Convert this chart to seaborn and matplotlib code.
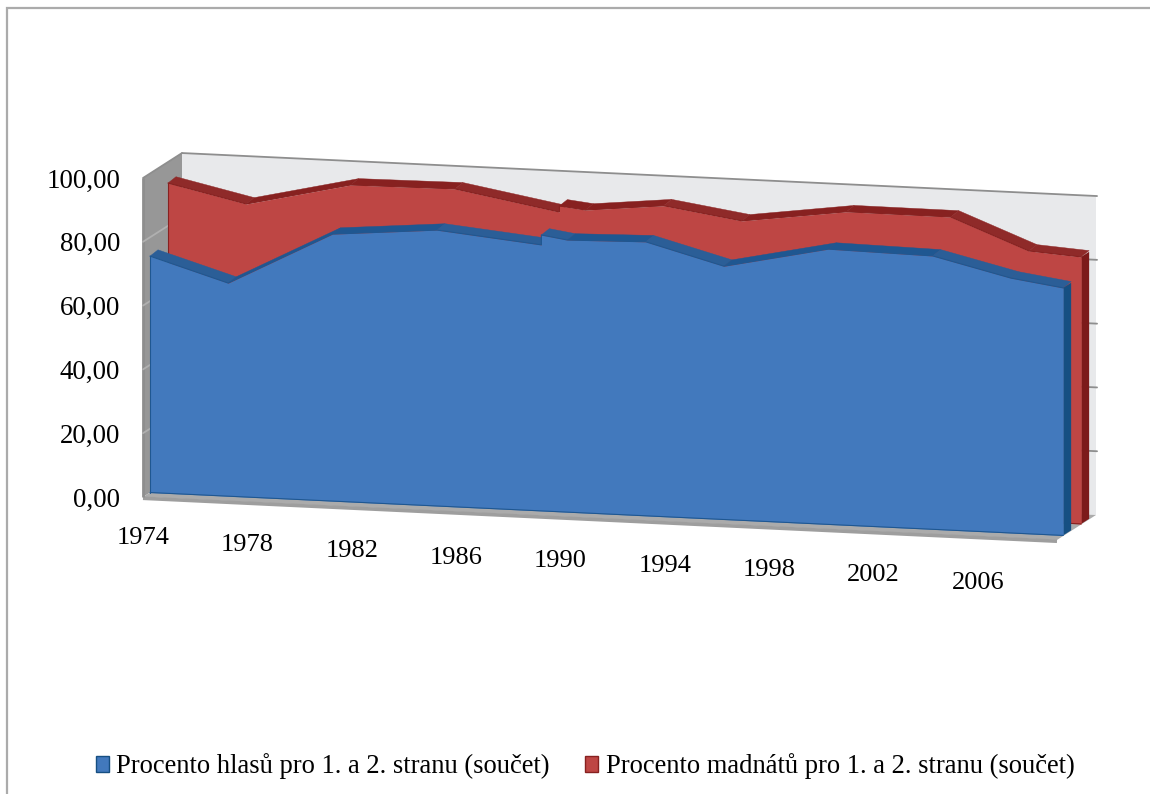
import numpy as np
import matplotlib
matplotlib.use('Agg')
import matplotlib.pyplot as plt
import seaborn as sns
from matplotlib.patches import Patch, Rectangle
from matplotlib.transforms import Affine2D

# Data (1989 is there twice, the chart has a step)
years = [1974, 1977, 1981, 1985, 1989, 1989, 1990, 1993, 1996, 2000, 2004, 2007, 2009]
votes = [74.1, 66.8, 83.7, 86.5, 83.4, 86.5, 85.3, 85.9, 79.4, 86.3, 85.7, 79.9, 77.6]
seats = [93.4, 88.0, 95.5, 95.8, 90.1, 92.0, 91.1, 93.6, 90.0, 94.4, 94.3, 84.8, 83.7]
year_labels = [1974, 1978, 1982, 1986, 1990, 1994, 1998, 2002, 2006]
value_ticks = [0, 20, 40, 60, 80, 100]
value_labels = ['0,00', '20,00', '40,00', '60,00', '80,00', '100,00']
series_names = ['Procento hlasů pro 1. a 2. stranu (součet)',
                'Procento madnátů pro 1. a 2. stranu (součet)']

# the year labels are not quite on one line in the original (pixels down)
label_nudge = [-1, 1, 2, 4, 2, 2, 1, 2, 5]

# Colours
blue, red = sns.color_palette(['#4279BD', '#BE4644'])
blue_tops = ['#1F5791', '#2B5E97']   # flat or rising, falling
red_tops = ['#872120', '#8F2A29']
blue_side = '#164F82'
red_side = '#7C1A1A'
wall_grey = '#979797'
floor_grey = '#ABABAB'
back_wall = '#E8E9EB'
line_grey = '#8E8E8E'

# Pixel scales of the fake 3D box
W, H = 1150, 794
PX_YEAR = 26.09
PX_VALUE = 3.19
SLOPE = 0.047     # the front edge runs downhill to the right
RISE = 0.64       # pixels up per pixel of depth
LEFT_PX, ZERO_PX = 143, 497

sns.set_theme(style='white')
plt.rcParams['font.family'] = ['Liberation Serif', 'DejaVu Serif']

fig = plt.figure(figsize=(W / 100, H / 100), dpi=100)
ax = fig.add_axes([0, 0, 1, 1])
ax.patch.set_alpha(0)

# shear the whole data plane about the left wall
k = SLOPE * PX_YEAR / PX_VALUE
shear = Affine2D(np.array([[1, 0, 0], [-k, 1, k * years[0]], [0, 0, 1]])) + ax.transData


def at_depth(x, y, d):
    # move points back into the box by d pixels
    x = np.asarray(x, dtype=float) + d / PX_YEAR
    y = np.asarray(y, dtype=float) + (RISE + SLOPE) * d / PX_VALUE
    return x, y


def face(x, y, **kw):
    ax.fill(x, y, transform=shear, **kw)


x_end = years[0] + 914 / PX_YEAR
DEPTH = 39

# back wall, left wall and floor
bx = [years[0], x_end, x_end, years[0]]
by = [0, 0, 100, 100]
face(*at_depth(bx, by, DEPTH), color=back_wall, lw=0, zorder=1)
wx, wy = at_depth([years[0]] * 4, [0, 100, 100, 0], np.array([0, 0, DEPTH, DEPTH]))
face(wx, wy, color=wall_grey, lw=0, zorder=1)
fx, fy = at_depth([years[0], x_end, x_end, years[0]], [0, 0, 0, 0], np.array([0, 0, DEPTH, DEPTH]))
face(fx, fy, color=floor_grey, lw=0, zorder=1)
ax.plot([years[0], x_end], [-0.4, -0.4], color='#9E9E9E', lw=2.6, transform=shear, zorder=1.5,
        solid_capstyle='butt')
ax.plot([years[0], years[0]], [0, 100], color=line_grey, lw=2, transform=shear, zorder=1.5,
        solid_capstyle='butt')

# gridlines, on both walls
for v in value_ticks[1:]:
    gx, gy = at_depth([years[0], x_end + 0.04], [v, v], DEPTH)
    ax.plot(gx, gy, color=line_grey, lw=1.3, transform=shear, zorder=1.6)
    gx, gy = at_depth([years[0], years[0]], [v, v], np.array([0, DEPTH]))
    ax.plot(gx, gy, color='#B0B0B0' if v < 100 else line_grey, lw=1.3, transform=shear, zorder=1.6)


def draw_series(vals, d, thick, color, tops, side, z):
    fx, fy = at_depth(years, vals, d)
    bx, by = at_depth(years, vals, d + thick)
    by = by + 1.2 / PX_VALUE   # ribbon looks a bit thicker than the depth alone gives
    # top ribbon, one piece per segment, falling ones are lighter
    for i in range(len(years) - 1):
        if years[i] == years[i + 1]:
            continue
        shade = tops[1] if vals[i + 1] < vals[i] - 1 else tops[0]
        face([fx[i], fx[i + 1], bx[i + 1], bx[i]], [fy[i], fy[i + 1], by[i + 1], by[i]],
             color=shade, lw=0.3, zorder=z)
    # right side
    sx, sy = at_depth([years[-1]] * 4, [0, vals[-1], vals[-1], 0], np.array([d, d, d + thick, d + thick]))
    face(sx, sy, color=side, lw=0, zorder=z)
    # front
    _, zy = at_depth(years, np.zeros(len(years)), d)
    ax.fill_between(fx, zy, fy, color=color, lw=0, transform=shear, zorder=z + 0.1)
    sns.lineplot(x=fx, y=fy, color=tops[0], lw=0.8, estimator=None, sort=False,
                 transform=shear, ax=ax, legend=False, zorder=z + 0.2)
    ax.plot(fx[[0, 0]], [zy[0], fy[0]], color=tops[0], lw=0.8, transform=shear, zorder=z + 0.2)
    ax.plot(fx[[0, -1]], zy[[0, -1]], color=tops[0], lw=0.8, transform=shear, zorder=z + 0.2)


draw_series(seats, 25, 8, red, red_tops, red_side, 2)
draw_series(votes, 7, 8, blue, blue_tops, blue_side, 3)

# limits: one data unit has a fixed size in pixels
x_left = years[0] - LEFT_PX / PX_YEAR
ax.set_xlim(x_left, x_left + W / PX_YEAR)
ax.set_ylim(-(H - ZERO_PX) / PX_VALUE, ZERO_PX / PX_VALUE)
ax.set_xlabel('')
ax.set_ylabel('')

# value axis sits left of the box, year labels follow the slope of the floor
sns.despine(ax=ax, left=True, bottom=True, top=True, right=True)
ax.set_xticks([])
ax.spines['left'].set_position(('data', x_left + 120 / PX_YEAR))
ax.set_yticks(value_ticks)
ax.set_yticklabels(value_labels, fontsize=19.4, color='black')
ax.tick_params(axis='y', length=0, pad=0)
for y, nudge in zip(year_labels, label_nudge):
    ax.text(y, -13.2 - nudge / PX_VALUE, str(y), transform=shear, ha='center', va='center',
            fontsize=19, color='black', zorder=5)

# legend
handles = [Patch(facecolor=blue, edgecolor=blue_side, lw=1),
           Patch(facecolor=red, edgecolor=red_tops[0], lw=1)]
fig.legend(handles, series_names, ncol=2, frameon=False, fontsize=19.1,
           loc='center', bbox_to_anchor=(585 / W, 1 - 766 / H),
           handlelength=0.5, handleheight=0.55, handletextpad=0.28,
           columnspacing=1.32, labelcolor='black')

# chart frame
fig.add_artist(Rectangle((7 / W, -0.1), 1.2, 1.1 - 8 / H, transform=fig.transFigure,
                         fill=False, edgecolor='#ABABAB', lw=1.6))

fig.savefig('out.png', dpi=100, facecolor='white')
